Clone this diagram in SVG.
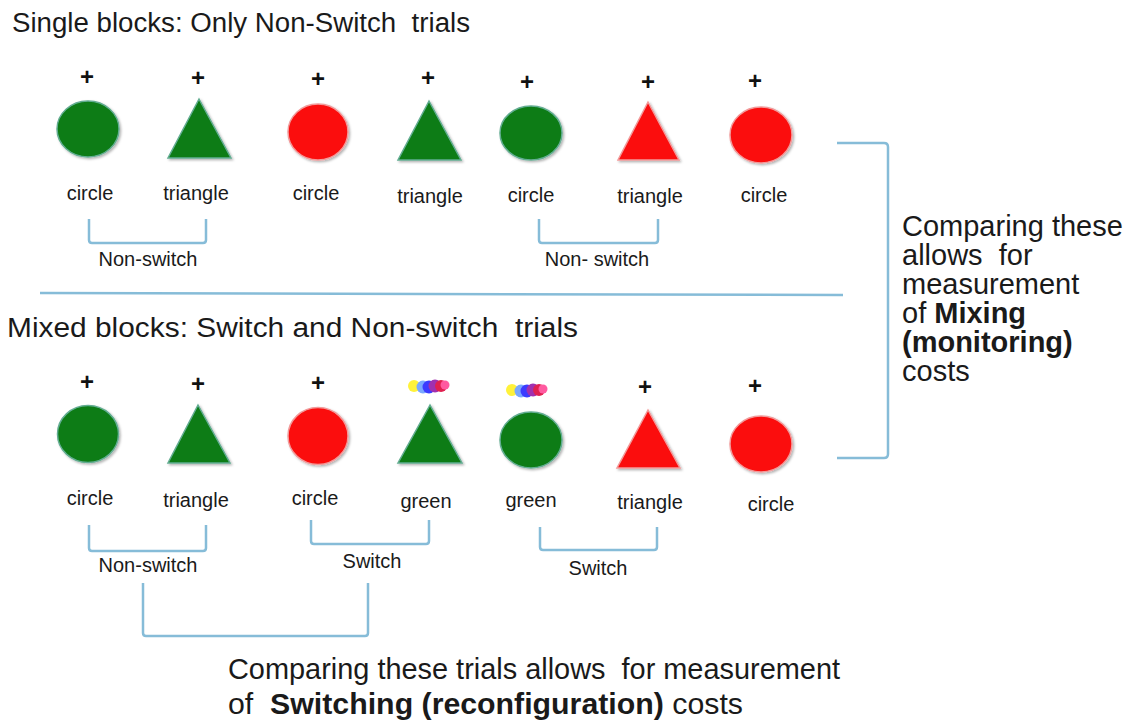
<svg xmlns="http://www.w3.org/2000/svg" width="1143" height="721" viewBox="0 0 1143 721">
<defs>
<filter id="sh" x="-20%" y="-20%" width="150%" height="150%">
<feDropShadow dx="1.5" dy="1.5" stdDeviation="1.2" flood-color="#000" flood-opacity="0.3"/>
</filter>
</defs>
<style>
text{font-family:"Liberation Sans",Arial,sans-serif;fill:#1a1a1a}
.h{font-size:27px}
.lab{font-size:20px;text-anchor:middle}
.plus{font-size:24px;font-weight:bold;text-anchor:middle;fill:#111}
.big{font-size:29px}
.g{fill:#0b7c16;stroke:#63ad92;stroke-width:1.5;filter:url(#sh)}
.r{fill:#fb0d0d;stroke:#f29a9a;stroke-width:1.5;filter:url(#sh)}
.br{fill:none;stroke:#86bcd8;stroke-width:2.5;stroke-linejoin:round}
</style>
<rect width="1143" height="721" fill="#ffffff"/>

<text class="h" x="12" y="32" textLength="458" lengthAdjust="spacingAndGlyphs" xml:space="preserve">Single blocks: Only Non-Switch  trials</text>
<text class="h" x="7" y="337" textLength="571" lengthAdjust="spacingAndGlyphs" xml:space="preserve">Mixed blocks: Switch and Non-switch  trials</text>

<!-- Row 1 -->
<g id="s1"><text class="plus" x="87" y="85">+</text><ellipse class="g" cx="88" cy="129" rx="31" ry="28"/><text class="lab" x="90" y="200">circle</text></g>
<g id="s2"><text class="plus" x="198" y="86">+</text><polygon class="g" points="199,99 168,158 231,158"/><text class="lab" x="196" y="200">triangle</text></g>
<g id="s3"><text class="plus" x="318" y="87">+</text><ellipse class="r" cx="318" cy="132" rx="30" ry="28"/><text class="lab" x="316" y="200">circle</text></g>
<g id="s4"><text class="plus" x="428" y="86">+</text><polygon class="g" points="429,101 398,160 461,160"/><text class="lab" x="430" y="203">triangle</text></g>
<g id="s5"><text class="plus" x="527" y="90">+</text><ellipse class="g" cx="531" cy="133" rx="31" ry="27"/><text class="lab" x="531" y="202">circle</text></g>
<g id="s6"><text class="plus" x="648" y="90">+</text><polygon class="r" points="648,102 618,160 679,160"/><text class="lab" x="650" y="203">triangle</text></g>
<g id="s7"><text class="plus" x="755" y="89">+</text><ellipse class="r" cx="761" cy="135" rx="31" ry="28"/><text class="lab" x="764" y="202">circle</text></g>

<!-- Row 2 -->
<g id="m1"><text class="plus" x="87" y="390">+</text><ellipse class="g" cx="88" cy="434" rx="30.5" ry="28.5"/><text class="lab" x="90" y="505">circle</text></g>
<g id="m2"><text class="plus" x="198" y="392">+</text><polygon class="g" points="198,405 168,463 230,463"/><text class="lab" x="196" y="507">triangle</text></g>
<g id="m3"><text class="plus" x="318" y="391">+</text><ellipse class="r" cx="318" cy="436" rx="30" ry="28.5"/><text class="lab" x="315" y="505">circle</text></g>
<g id="m4">
<g id="blob1"><circle cx="414" cy="386" r="6" fill="#fff23a"/><circle cx="423" cy="387" r="6.5" fill="#7aa8ff"/><circle cx="429" cy="387" r="6.5" fill="#3b3bff"/><circle cx="435" cy="386" r="6.5" fill="#a030b0"/><circle cx="441" cy="386" r="6" fill="#e02050"/><circle cx="445" cy="385" r="4.5" fill="#ff5aa0"/></g>
<polygon class="g" points="430,405 398,463 462,463"/><text class="lab" x="426" y="508">green</text></g>
<g id="m5">
<g id="blob2"><circle cx="512" cy="390" r="6" fill="#fff23a"/><circle cx="521" cy="391" r="6.5" fill="#7aa8ff"/><circle cx="527" cy="391" r="6.5" fill="#3b3bff"/><circle cx="533" cy="390" r="6.5" fill="#a030b0"/><circle cx="539" cy="390" r="6" fill="#e02050"/><circle cx="543" cy="389" r="4.5" fill="#ff5aa0"/></g>
<ellipse class="g" cx="531" cy="440" rx="31" ry="28"/><text class="lab" x="531" y="507">green</text></g>
<g id="m6"><text class="plus" x="645" y="395">+</text><polygon class="r" points="648,410 617,468 680,468"/><text class="lab" x="650" y="509">triangle</text></g>
<g id="m7"><text class="plus" x="755" y="394">+</text><ellipse class="r" cx="761" cy="444" rx="31" ry="28"/><text class="lab" x="771" y="511">circle</text></g>

<!-- Connectors / brackets -->
<g id="connectors">
<line x1="40" y1="293" x2="843" y2="295" stroke="#86bcd8" stroke-width="2.5"/>
<path class="br" d="M89,219 L89,240 Q89,243 92,243 L203,243 Q206,243 206,240 L206,219"/>
<path class="br" d="M539,219 L539,240 Q539,243 542,243 L655,243 Q658,243 658,240 L658,219"/>
<path class="br" d="M89,525 L89,548 Q89,551 92,551 L203,551 Q206,551 206,548 L206,525"/>
<path class="br" d="M311,520 L311,541 Q311,544 314,544 L426,544 Q429,544 429,541 L429,520"/>
<path class="br" d="M540,527 L540,547 Q540,550 543,550 L654,550 Q657,550 657,547 L657,527"/>
<path class="br" d="M143,583 L143,633 Q143,636 146,636 L365,636 Q368,636 368,633 L368,583"/>
<path class="br" d="M837,143 L884,143 Q888,143 888,147 L888,454 Q888,458 884,458 L837,458"/>
</g>

<text class="lab" x="148" y="266">Non-switch</text>
<text class="lab" x="597" y="266">Non- switch</text>
<text class="lab" x="148" y="572">Non-switch</text>
<text class="lab" x="372" y="568">Switch</text>
<text class="lab" x="598" y="575">Switch</text>

<g id="mixing-note">
<text class="big" x="902" y="236">Comparing these</text>
<text class="big" x="902" y="265" xml:space="preserve">allows  for</text>
<text class="big" x="902" y="294">measurement</text>
<text class="big" x="902" y="323">of <tspan font-weight="bold">Mixing</tspan></text>
<text class="big" x="902" y="352" font-weight="bold">(monitoring)</text>
<text class="big" x="902" y="381">costs</text>
</g>

<g id="switching-note">
<text class="big" x="228" y="679" textLength="612" lengthAdjust="spacingAndGlyphs" xml:space="preserve">Comparing these trials allows  for measurement</text>
<text class="big" x="228" y="714" textLength="515" lengthAdjust="spacingAndGlyphs" xml:space="preserve">of  <tspan font-weight="bold">Switching (reconfiguration)</tspan> costs</text>
</g>
</svg>
